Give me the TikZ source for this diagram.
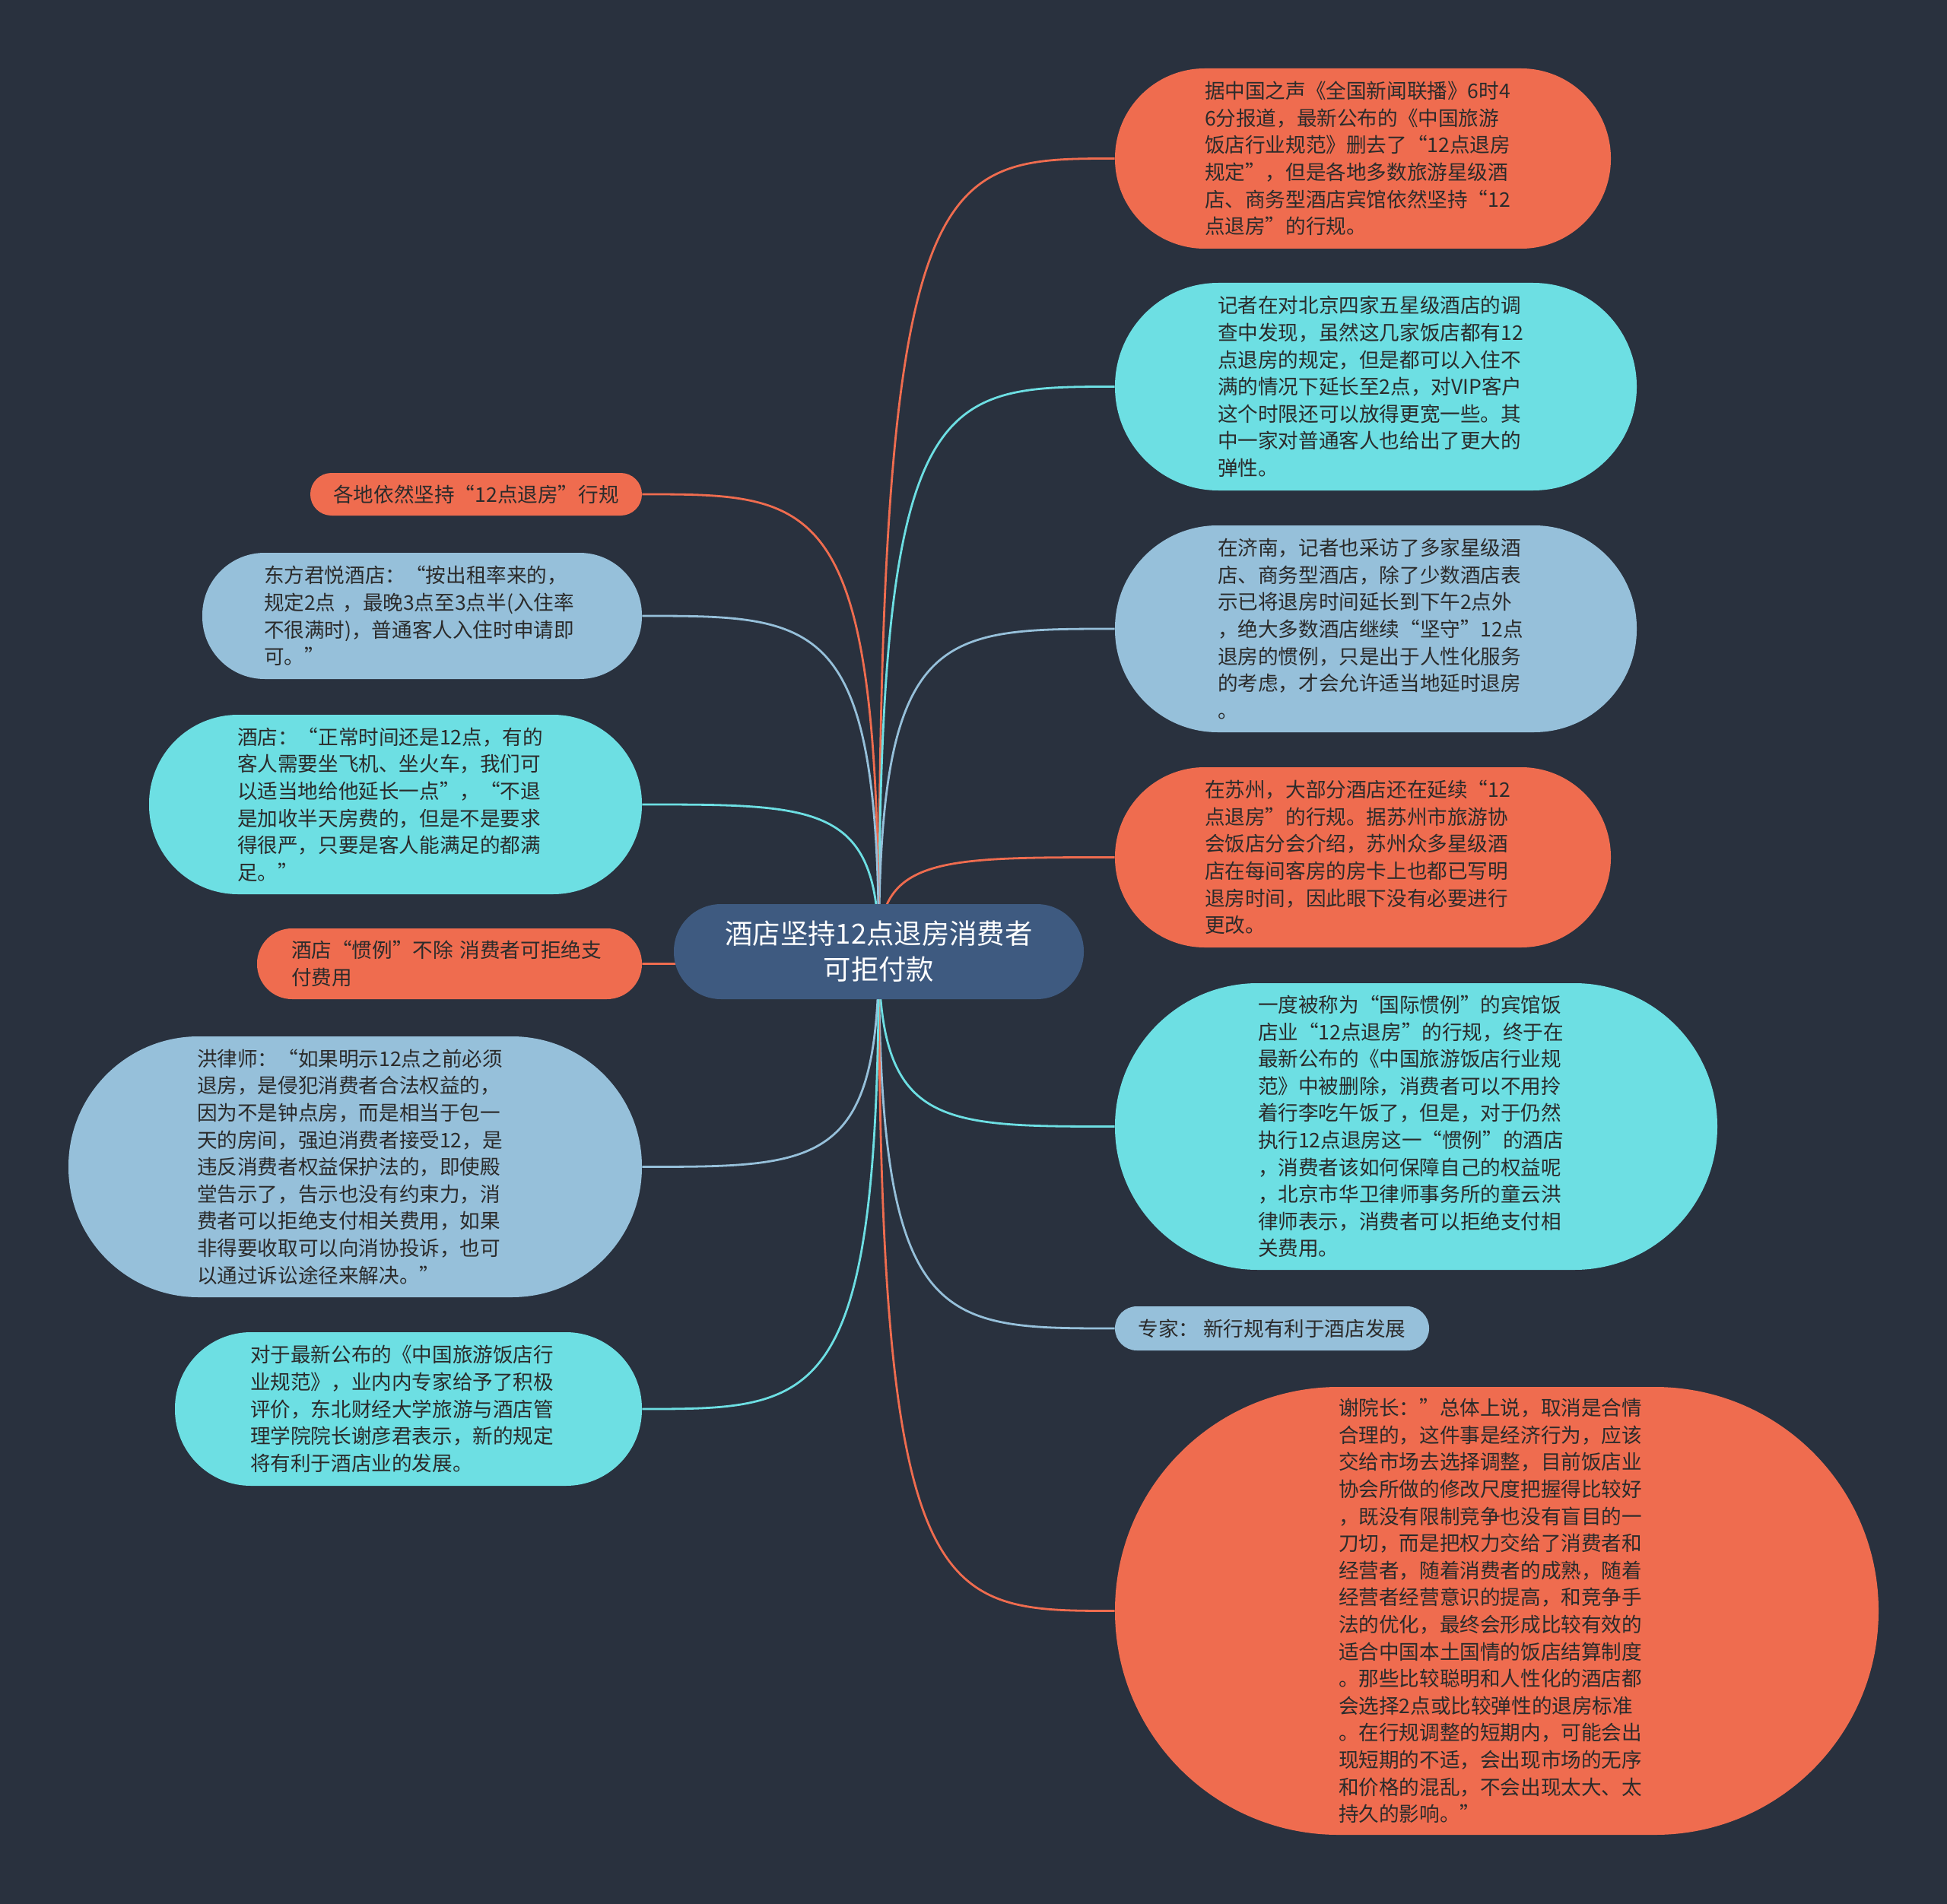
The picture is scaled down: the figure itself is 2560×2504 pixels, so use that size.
\documentclass[tikz,border=0pt]{standalone}
\usepackage{fontspec}
\setmainfont{Noto Sans CJK SC}
\usetikzlibrary{calc}
\definecolor{bgc}{HTML}{29313E}
\definecolor{orn}{HTML}{EF6C4F}
\definecolor{cyn}{HTML}{6DDFE3}
\definecolor{lbl}{HTML}{96C0DA}
\definecolor{ctr}{HTML}{3E5A80}
\definecolor{txt}{HTML}{2B2B2B}
\pgfdeclarelayer{bglayer}
\pgfdeclarelayer{edgelayer}
\pgfsetlayers{bglayer,edgelayer,main}
\newcommand\mmlink[2]{\draw[link,#2] (C.center) .. controls (C.center |- #1) and ($(C.center |- #1)!0.25!(#1)$) .. (#1);}
\begin{document}
\begin{tikzpicture}[x=0.5pt,y=-0.5pt,
  box/.style={rectangle, inner sep=0pt, text=txt, font=\fontsize{13.3}{17.8}\selectfont},
  multi/.style={box, text width=208pt, align=left},
  link/.style={line width=1.4pt}]
\useasboundingbox (0,0) rectangle (2560,2504);
\begin{pgfonlayer}{bglayer}
\fill[bgc] (0,0) rectangle (2560,2504);
\end{pgfonlayer}

% centre
\node[box, fill=ctr, text=white, align=center, font=\fontsize{18.2}{23.5}\selectfont,
  minimum width=269.5pt, minimum height=62.5pt, rounded corners=31pt] (C) at (1155.5,1251.5)
  {酒店坚持12点退房消费者\\可拒付款};

% right side
\node[multi, fill=orn, minimum width=326pt, minimum height=118.5pt, rounded corners=59pt] (R1) at (1792,208.5)
{据中国之声《全国新闻联播》6时4\\
6分报道，最新公布的《中国旅游\\
饭店行业规范》删去了“12点退房\\
规定”，但是各地多数旅游星级酒\\
店、商务型酒店宾馆依然坚持“12\\
点退房”的行规。};

\node[multi, fill=cyn, minimum width=343pt, minimum height=136.5pt, rounded corners=68pt] (R2) at (1809,508.5)
{记者在对北京四家五星级酒店的调\\
查中发现，虽然这几家饭店都有12\\
点退房的规定，但是都可以入住不\\
满的情况下延长至2点，对VIP客户\\
这个时限还可以放得更宽一些。其\\
中一家对普通客人也给出了更大的\\
弹性。};

\node[multi, fill=lbl, minimum width=343pt, minimum height=136pt, rounded corners=67.5pt] (R3) at (1809,827)
{在济南，记者也采访了多家星级酒\\
店、商务型酒店，除了少数酒店表\\
示已将退房时间延长到下午2点外\\
，绝大多数酒店继续“坚守”12点\\
退房的惯例，只是出于人性化服务\\
的考虑，才会允许适当地延时退房\\
。};

\node[multi, fill=orn, minimum width=326pt, minimum height=118.5pt, rounded corners=59pt] (R4) at (1792,1127.5)
{在苏州，大部分酒店还在延续“12\\
点退房”的行规。据苏州市旅游协\\
会饭店分会介绍，苏州众多星级酒\\
店在每间客房的房卡上也都已写明\\
退房时间，因此眼下没有必要进行\\
更改。};

\node[multi, fill=cyn, minimum width=396pt, minimum height=188.5pt, rounded corners=94pt] (R5) at (1862,1481.5)
{一度被称为“国际惯例”的宾馆饭\\
店业“12点退房”的行规，终于在\\
最新公布的《中国旅游饭店行业规\\
范》中被删除，消费者可以不用拎\\
着行李吃午饭了，但是，对于仍然\\
执行12点退房这一“惯例”的酒店\\
，消费者该如何保障自己的权益呢\\
，北京市华卫律师事务所的童云洪\\
律师表示，消费者可以拒绝支付相\\
关费用。};

\node[box, fill=lbl, minimum width=206.5pt, minimum height=29pt, rounded corners=14.4pt] (R6) at (1672.5,1747)
{专家：~新行规有利于酒店发展};

\node[multi, fill=orn, minimum width=502pt, minimum height=294.5pt, rounded corners=147pt] (R7) at (1968,2118.5)
{谢院长：”总体上说，取消是合情\\
合理的，这件事是经济行为，应该\\
交给市场去选择调整，目前饭店业\\
协会所做的修改尺度把握得比较好\\
，既没有限制竞争也没有盲目的一\\
刀切，而是把权力交给了消费者和\\
经营者，随着消费者的成熟，随着\\
经营者经营意识的提高，和竞争手\\
法的优化，最终会形成比较有效的\\
适合中国本土国情的饭店结算制度\\
。那些比较聪明和人性化的酒店都\\
会选择2点或比较弹性的退房标准\\
。在行规调整的短期内，可能会出\\
现短期的不适，会出现市场的无序\\
和价格的混乱，不会出现太大、太\\
持久的影响。”};

% left side
\node[box, fill=orn, minimum width=218pt, minimum height=28pt, rounded corners=13.9pt] (L1) at (626,650)
{各地依然坚持“12点退房”行规};

\node[multi, fill=lbl, minimum width=289pt, minimum height=83pt, rounded corners=41pt] (L2) at (555,810)
{东方君悦酒店：“按出租率来的，\\
规定2点~，最晚3点至3点半(入住率\\
不很满时)，普通客人入住时申请即\\
可。”};

\node[multi, fill=cyn, minimum width=324pt, minimum height=118pt, rounded corners=58.5pt] (L3) at (520,1058)
{酒店：“正常时间还是12点，有的\\
客人需要坐飞机、坐火车，我们可\\
以适当地给他延长一点”，“不退\\
是加收半天房费的，但是不是要求\\
得很严，只要是客人能满足的都满\\
足。”};

\node[multi, fill=orn, minimum width=253pt, minimum height=46.5pt, rounded corners=23pt] (L4) at (591,1267.5)
{酒店“惯例”不除~消费者可拒绝支\\
付费用};

\node[multi, fill=lbl, minimum width=377pt, minimum height=171.5pt, rounded corners=85.5pt] (L5) at (467,1534.5)
{洪律师：“如果明示12点之前必须\\
退房，是侵犯消费者合法权益的，\\
因为不是钟点房，而是相当于包一\\
天的房间，强迫消费者接受12，是\\
违反消费者权益保护法的，即使殿\\
堂告示了，告示也没有约束力，消\\
费者可以拒绝支付相关费用，如果\\
非得要收取可以向消协投诉，也可\\
以通过诉讼途径来解决。”};

\node[multi, fill=cyn, minimum width=307pt, minimum height=101pt, rounded corners=50pt] (L6) at (537,1853)
{对于最新公布的《中国旅游饭店行\\
业规范》，业内内专家给予了积极\\
评价，东北财经大学旅游与酒店管\\
理学院院长谢彦君表示，新的规定\\
将有利于酒店业的发展。};

% connectors
\begin{pgfonlayer}{edgelayer}
\mmlink{R1.west}{orn}
\mmlink{R2.west}{cyn}
\mmlink{R3.west}{lbl}
\mmlink{R4.west}{orn}
\mmlink{R5.west}{cyn}
\mmlink{R6.west}{lbl}
\mmlink{R7.west}{orn}
\mmlink{L1.east}{orn}
\mmlink{L2.east}{lbl}
\mmlink{L3.east}{cyn}
\mmlink{L4.east}{orn}
\mmlink{L5.east}{lbl}
\mmlink{L6.east}{cyn}
\end{pgfonlayer}
\end{tikzpicture}
\end{document}
